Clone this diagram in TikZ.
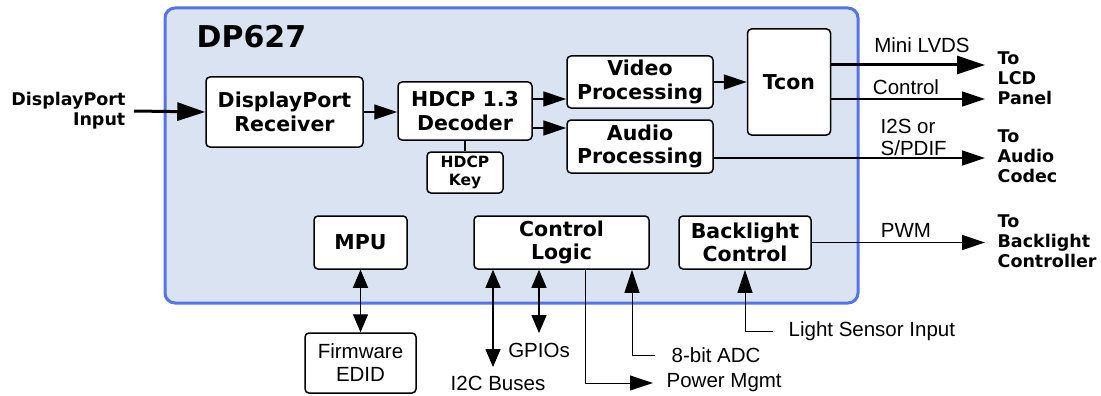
\documentclass[tikz,border=0pt]{standalone}
\usepackage{fontspec}
\setmainfont{Liberation Sans}
\newfontfamily\heavyfont{DejaVu Sans}
\usetikzlibrary{arrows.meta,positioning}
\definecolor{chipfill}{RGB}{218,227,242}
\definecolor{chipline}{RGB}{84,116,236}

\begin{document}
\begin{tikzpicture}
  [x=1pt,y=-1pt,line width=1.3pt,
   blk/.style={draw,line width=1.5pt,rounded corners=4pt,fill=white,align=center,inner sep=0pt,
     font=\heavyfont\bfseries\fontsize{20.5}{23.5}\selectfont},
   lbl/.style={font=\fontsize{20.5}{22}\selectfont,align=left,inner sep=2pt},
   blbl/.style={font=\heavyfont\bfseries\fontsize{17.5}{20}\selectfont,align=left,inner sep=2pt},
   arr/.style={-{Triangle[length=23pt,width=15pt]}},
   bigarr/.style={line width=3pt,-{Triangle[length=28pt,width=18pt]}},
   dbl/.style={{Triangle[length=18pt,width=15pt]}-{Triangle[length=18pt,width=15pt]}}]
  \useasboundingbox (0,0) rectangle (1101,396);

  % chip outline
  \node[draw=chipline,line width=3pt,fill=chipfill,rounded corners=10pt,
    minimum width=693pt,minimum height=295pt] (chip) at (511.5,155.5) {};
  \node[font=\heavyfont\bfseries\fontsize{30}{30}\selectfont,anchor=west,inner sep=0pt] (title) at (196,37) {DP627};

  % blocks
  \node[blk,minimum width=157pt,minimum height=70pt] (rx) at (284.5,112) {DisplayPort\\Receiver};
  \node[blk,minimum width=134pt,minimum height=58pt] (dec) at (465,111) {HDCP 1.3\\Decoder};
  \node[blk,minimum width=76pt,minimum height=41pt,
    font=\heavyfont\bfseries\fontsize{15.5}{18}\selectfont] (key) at (465,172.5) {HDCP\\Key};
  \node[blk,minimum width=146pt,minimum height=52pt] (vid) at (640,82) {Video\\Processing};
  \node[blk,minimum width=146pt,minimum height=53pt] (aud) at (640,146.5) {Audio\\Processing};
  \node[blk,minimum width=83pt,minimum height=106pt] (tcon) at (789,82) {Tcon};
  \node[blk,minimum width=93pt,minimum height=53pt] (mpu) at (360.5,242.5) {MPU};
  \node[blk,minimum width=175pt,minimum height=53pt] (ctl) at (561.5,242.5) {Control\\Logic};
  \node[blk,minimum width=132pt,minimum height=53pt] (blc) at (745,242.5) {Backlight\\Control};
  \node[blk,minimum width=111pt,minimum height=60pt,
    font=\fontsize{20.5}{23}\selectfont] (fw) at (360.5,363) {Firmware\\EDID};

  % outside labels
  \node[blbl,anchor=east,align=right,inner xsep=8pt] (dpin) at (134,111) {DisplayPort\\Input};
  \node[blbl,anchor=west,inner xsep=12pt] (tolcd) at (985,78) {To\\LCD\\Panel};
  \node[blbl,anchor=west,inner xsep=12pt] (toaud) at (985,156) {To\\Audio\\Codec};
  \node[blbl,anchor=west,inner xsep=12pt] (tobl) at (985,241) {To\\Backlight\\Controller};
  \node[lbl] (lvds) at (922,45) {Mini LVDS};
  \node[lbl] (ctrl) at (906,87) {Control};
  \node[lbl,anchor=west] (i2s) at (878,137) {I2S or\\S/PDIF};
  \node[lbl] (pwm) at (906,230) {PWM};
  \node[lbl,inner ysep=9pt] (gpio) at (539,350) {GPIOs};
  \node[lbl,inner ysep=8pt] (i2c) at (498,383) {I2C Buses};
  \node[lbl,anchor=west,inner xsep=13pt] (pwr) at (653,383) {Power Mgmt};
  \node[lbl,anchor=west,inner xsep=16pt] (adc) at (655,355) {8-bit ADC};
  \node[lbl,anchor=west,inner xsep=15pt] (lsi) at (773,331) {Light Sensor Input};

  % connections
  \draw[bigarr] (dpin.east) -- (rx.west);
  \draw[arr] (rx.east) -- (rx.east -| dec.west);
  \draw[arr] (dec.east |- 0,99) -- (vid.west |- 0,99);
  \draw[arr] (dec.east |- 0,128) -- (aud.west |- 0,128);
  \draw (dec.south) -- (key.north);
  \draw[arr] (vid.east) -- (tcon.west);
  \draw[bigarr] (tcon.east |- 0,65) -- (tolcd.west |- 0,65);
  \draw[arr] (tcon.east |- 0,99) -- (tolcd.west |- 0,99);
  \draw[arr] (aud.east |- 0,158) -- (toaud.west |- 0,158);
  \draw[arr] (blc.east) -- (blc.east -| tobl.west);
  \draw[dbl] (mpu.south) -- (fw.north);
  \draw[dbl] (ctl.south -| 493,0) -- (i2c.north -| 493,0);
  \draw[dbl] (ctl.south -| gpio.north) -- (gpio.north);
  \draw[arr,line width=1pt] (ctl.south -| 585,0) |- (pwr.west);
  \draw[arr,line width=1pt] (adc.west) -| (ctl.south -| 632,0);
  \draw[arr,line width=1pt] (lsi.west) -| (blc.south);
\end{tikzpicture}
\end{document}
